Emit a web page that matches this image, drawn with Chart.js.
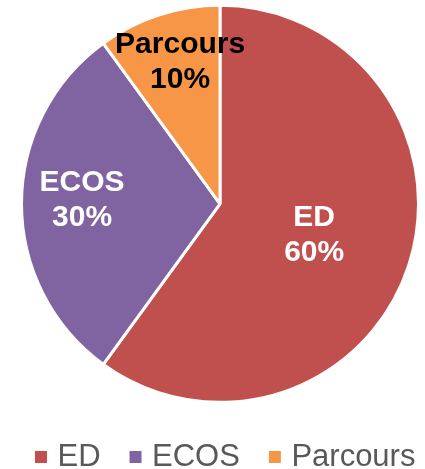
<!DOCTYPE html>
<html><head><meta charset="utf-8">
<script src="https://cdn.jsdelivr.net/npm/chart.js@4"></script>
<style>html,body{margin:0;padding:0;background:#fff}#wrap{width:425px;height:469px;position:relative}</style>
</head><body><div id="wrap"><canvas id="c"></canvas></div>
<script>
const categories = ['ED', 'ECOS', 'Parcours'];
const values = [60, 30, 10];
const colors = ['#C0504D', '#8064A2', '#F79646'];
const labelColors = ['#FFFFFF', '#FFFFFF', '#000000'];
const labelRadius = [0.5, 0.695, 0.742];
const labelAngleShiftDeg = [0.4, 1.5, 2.3];

const FONT = '"Liberation Sans", Arial, Helvetica, sans-serif';

const sliceLabels = {
  id: 'sliceLabels',
  afterDatasetsDraw(chart) {
    const meta = chart.getDatasetMeta(0);
    const total = values.reduce((a, b) => a + b, 0);
    const ctx = chart.ctx;
    ctx.save();
    ctx.font = 'bold 30px ' + FONT;
    ctx.textAlign = 'center';
    ctx.textBaseline = 'middle';
    meta.data.forEach((arc, i) => {
      const p = arc.getProps(['x', 'y', 'startAngle', 'endAngle', 'outerRadius'], true);
      const mid = (p.startAngle + p.endAngle) / 2 + labelAngleShiftDeg[i] * Math.PI / 180;
      const r = p.outerRadius * labelRadius[i];
      const x = p.x + Math.cos(mid) * r;
      const y = p.y + Math.sin(mid) * r;
      ctx.fillStyle = labelColors[i];
      ctx.fillText(categories[i], x, y - 17.5);
      ctx.fillText(Math.round(values[i] / total * 100) + '%', x, y + 17.5);
    });
    ctx.restore();
  }
};

new Chart(document.getElementById('c'), {
  type: 'pie',
  data: {
    labels: categories,
    datasets: [{
      data: values,
      backgroundColor: colors,
      borderColor: '#FFFFFF',
      borderWidth: 3,
      radius: 198.5
    }]
  },
  options: {
    responsive: true,
    maintainAspectRatio: false,
    animation: false,
    layout: { padding: { left: 4.4, right: -26, top: 0.2, bottom: -13.5 } },
    plugins: {
      tooltip: { enabled: false },
      title: {
        display: true, position: 'left', text: ' ',
        font: { size: 1, lineHeight: 1 },
        padding: { top: 9.6, bottom: 0 }
      },
      legend: {
        position: 'bottom',
        labels: {
          usePointStyle: true,
          pointStyle: 'rect',
          boxWidth: 2,
          boxHeight: 12,
          padding: 34,
          color: '#595959',
          font: { size: 31, family: FONT },
          generateLabels(chart) {
            const items = Chart.overrides.doughnut.plugins.legend.labels.generateLabels(chart);
            return items.map(it => Object.assign({}, it, { lineWidth: 0, strokeStyle: 'rgba(0,0,0,0)' }));
          }
        }
      }
    }
  },
  plugins: [sliceLabels]
});
</script>
</body></html>
